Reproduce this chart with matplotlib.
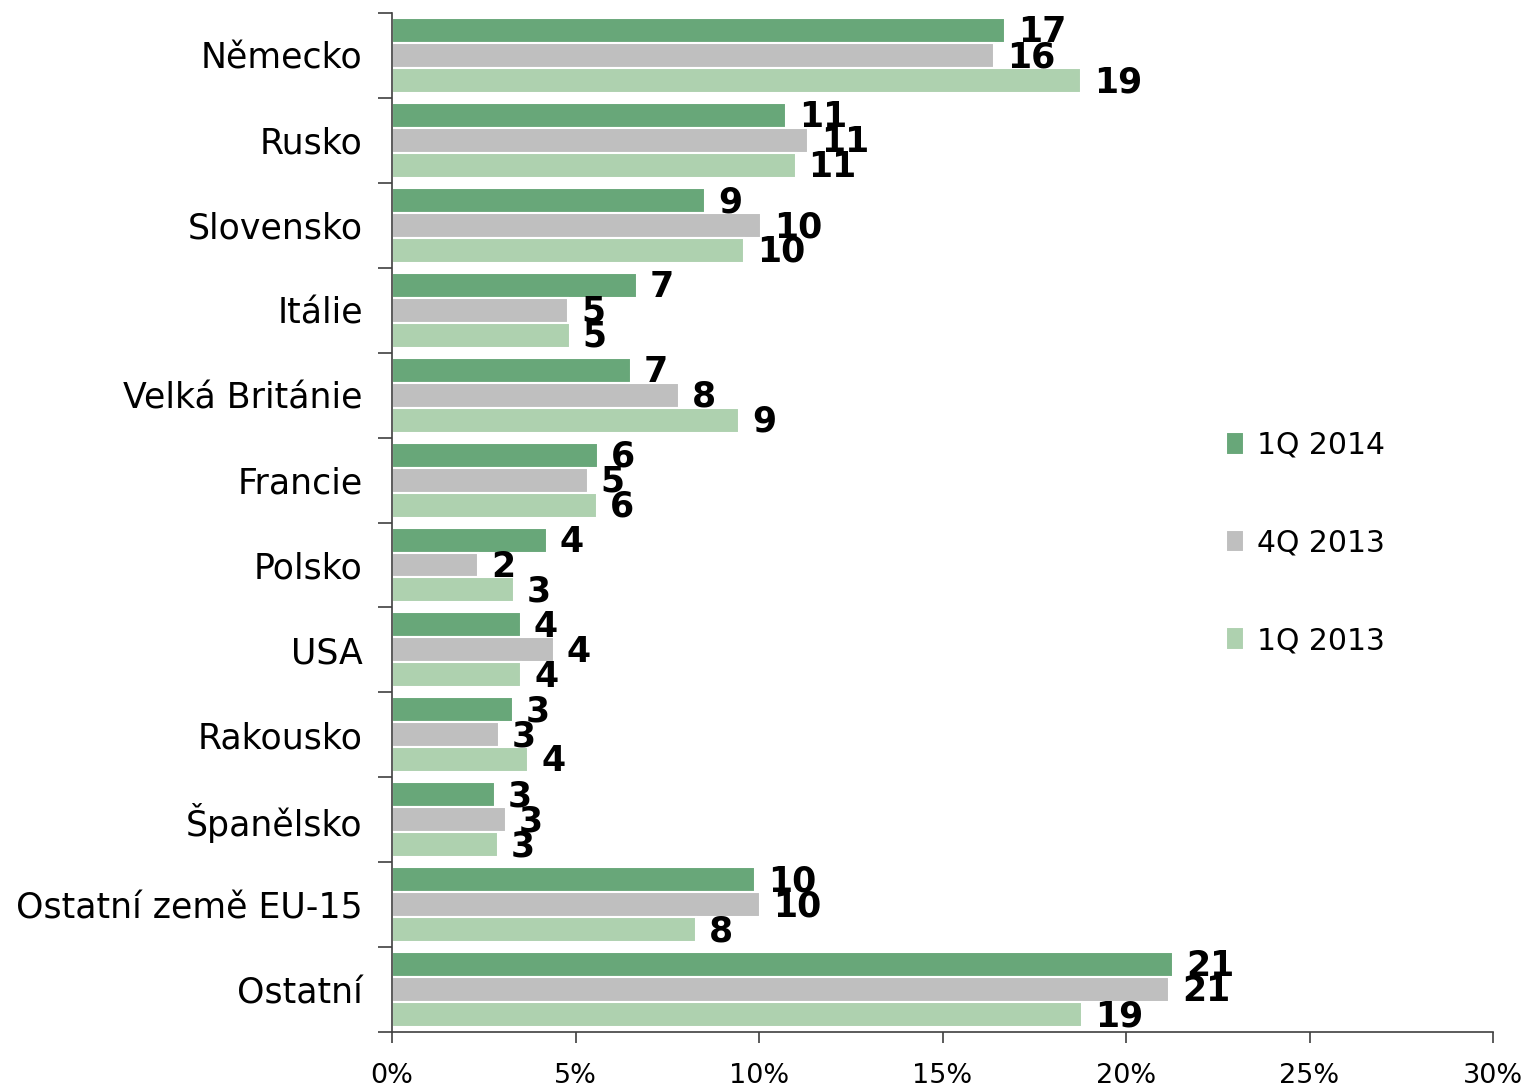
import numpy as np
import matplotlib.pyplot as plt

# shares of exports by country (%)
countries = ["Německo", "Rusko", "Slovensko", "Itálie", "Velká Británie", "Francie",
             "Polsko", "USA", "Rakousko", "Španělsko", "Ostatní země EU-15", "Ostatní"]
q1_2014 = [16.7, 10.74, 8.53, 6.68, 6.51, 5.61, 4.22, 3.51, 3.30, 2.81, 9.89, 21.28]
q4_2013 = [16.4, 11.34, 10.05, 4.80, 7.82, 5.34, 2.34, 4.41, 2.92, 3.11, 10.03, 21.17]
q1_2013 = [18.77, 11.0, 9.59, 4.85, 9.46, 5.59, 3.32, 3.52, 3.71, 2.89, 8.28, 18.80]

lbl_2014 = [17, 11, 9, 7, 7, 6, 4, 4, 3, 3, 10, 21]
lbl_4q13 = [16, 11, 10, 5, 8, 5, 2, 4, 3, 3, 10, 21]
lbl_2013 = [19, 11, 10, 5, 9, 6, 3, 4, 4, 3, 8, 19]

series = [("1Q 2014", q1_2014, lbl_2014, "#68a779"),
          ("4Q 2013", q4_2013, lbl_4q13, "#bfbfbf"),
          ("1Q 2013", q1_2013, lbl_2013, "#aed1af")]

fig = plt.figure(figsize=(15.26, 10.86), dpi=100)
ax = fig.add_axes([0.2569, 0.0497, 0.7215, 0.9383])

y = np.arange(len(countries))
h = 0.294
for k, (name, vals, lbls, col) in enumerate(series):
    pos = y + (k - 1) * h
    ax.barh(pos, vals, height=h, color=col, edgecolor="white", linewidth=1.5, label=name)
    for p, v, t in zip(pos, vals, lbls):
        ax.text(v + 0.35, p + 0.02, str(t), va="center", ha="left", fontsize=25,
                fontweight="bold", color="black")

ax.set_xlim(0, 30)
ax.set_ylim(len(countries) - 0.5, -0.5)

ax.set_xticks(np.arange(0, 31, 5))
ax.set_xticklabels([f"{v}%" for v in range(0, 31, 5)], fontsize=19.5)
ax.tick_params(axis="x", direction="out", length=8, width=1.2, color="#404040", pad=14)

ax.set_yticks(np.arange(-0.5, len(countries), 1))
ax.set_yticklabels([])
ax.set_yticks(y, minor=True)
ax.set_yticklabels(countries, minor=True, fontsize=25)
ax.tick_params(axis="y", which="major", direction="out", length=10, width=1.2, color="#404040")
ax.tick_params(axis="y", which="minor", length=0, pad=21)

for s in ["top", "right"]:
    ax.spines[s].set_visible(False)
for s in ["left", "bottom"]:
    ax.spines[s].set_color("#404040")
    ax.spines[s].set_linewidth(1.2)

ax.legend(loc="center left", bbox_to_anchor=(0.744, 0.48), frameon=False,
          fontsize=21.5, handlelength=0.6, handleheight=0.8, handletextpad=0.45,
          labelspacing=2.3, borderpad=0)

fig.savefig("out.png", dpi=100)
